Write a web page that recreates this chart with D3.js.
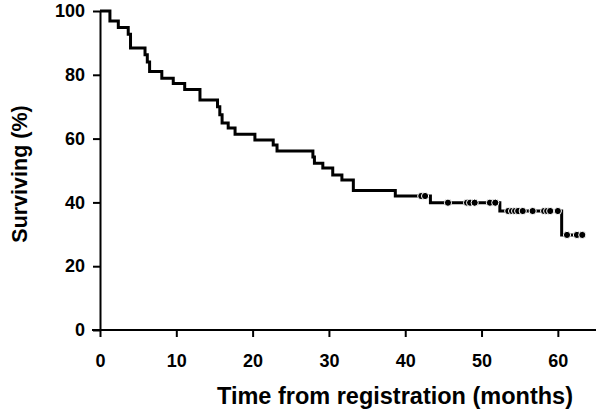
<!DOCTYPE html>
<html>
<head>
<meta charset="utf-8">
<script src="https://cdn.jsdelivr.net/npm/d3@7"></script>
<style>
  body { margin: 0; background: #fff; }
  text { font-family: "Liberation Sans", Arial, sans-serif; font-weight: bold; }
</style>
</head>
<body>
<svg id="km" width="601" height="413"></svg>
<script>
// step times (months) and survival (%) after each step
const eventTimes = [0, 1.3, 2.4, 3.7, 4.0, 5.9, 6.2, 6.5, 8.1, 9.6, 11.1, 13.1, 15.4, 15.7, 16.0,
    16.8, 17.7, 20.3, 22.7, 23.2, 27.9, 28.1, 29.2, 30.5, 31.7, 33.2, 38.7, 43.3, 52.4, 60.5]
const survival = [100, 96.9, 94.8, 92.7, 88.4, 86.3, 84.0, 81.0, 78.9, 77.3, 75.4, 72.1, 70.0, 67.5, 64.9,
    63.3, 61.4, 59.6, 58.0, 56.1, 54.2, 52.3, 50.8, 48.6, 47.0, 43.7, 42.0, 39.9, 37.3, 29.8]
// censored observations
const censorTimes = [42.1, 42.6, 45.6, 48.1, 48.5, 49.1, 51.1, 51.8, 53.5, 54.0, 54.4, 54.8, 55.4,
    56.7, 58.2, 58.6, 59.0, 60.0, 61.2, 62.5, 63.2]
const xTicks = [0, 10, 20, 30, 40, 50, 60]
const yTicks = [0, 20, 40, 60, 80, 100]

const svg = d3.select('#km')
const x = d3.scaleLinear().domain([0, 65]).range([100, 596])
const y = d3.scaleLinear().domain([0, 100]).range([330, 11])

// axes
const xAxis = svg.append('g')
    .attr('transform', 'translate(0,330)')
    .call(d3.axisBottom(x).tickValues(xTicks).tickSize(7).tickPadding(17).tickSizeOuter(0))
const yAxis = svg.append('g')
    .attr('transform', 'translate(100,0)')
    .call(d3.axisLeft(y).tickValues(yTicks).tickSize(7).tickPadding(8).tickSizeOuter(0))
for (const ax of [xAxis, yAxis]) {
    ax.select('.domain').attr('stroke', '#000').attr('stroke-width', 2)
    ax.selectAll('.tick line').attr('stroke', '#000').attr('stroke-width', 2)
    ax.selectAll('.tick text').attr('fill', '#000')
        .style('font-size', '18px').style('font-family', '"Liberation Sans", Arial, sans-serif')
        .style('font-weight', 'bold')
}
// extend x axis line left under y axis
xAxis.select('.domain').attr('d', `M${x(0) - 8},0H${x(65)}`)

// step curve
const lastT = d3.max(censorTimes)
const pts = eventTimes.map((t, i) => [t, survival[i]])
pts.push([lastT, survival[survival.length - 1]])
const line = d3.line()
    .x(d => x(d[0]))
    .y(d => y(d[1]))
    .curve(d3.curveStepAfter)
svg.append('path')
    .datum(pts)
    .attr('d', line)
    .attr('fill', 'none')
    .attr('stroke', '#000')
    .attr('stroke-width', 3)

// censor marks
const survAt = t => survival[d3.bisectRight(eventTimes, t) - 1]
svg.append('g').selectAll('circle')
    .data(censorTimes)
    .enter().append('circle')
    .attr('cx', d => x(d))
    .attr('cy', d => y(survAt(d)))
    .attr('r', 3.6)
    .attr('fill', '#000')
    .attr('stroke', '#fff')
    .attr('stroke-width', 1)

// titles
svg.append('text')
    .attr('x', 395).attr('y', 404)
    .attr('text-anchor', 'middle')
    .style('font-size', '23.5px')
    .text('Time from registration (months)')
svg.append('text')
    .attr('transform', 'translate(27,174) rotate(-90)')
    .attr('text-anchor', 'middle')
    .style('font-size', '21.5px')
    .text('Surviving (%)')
</script>
</body>
</html>
